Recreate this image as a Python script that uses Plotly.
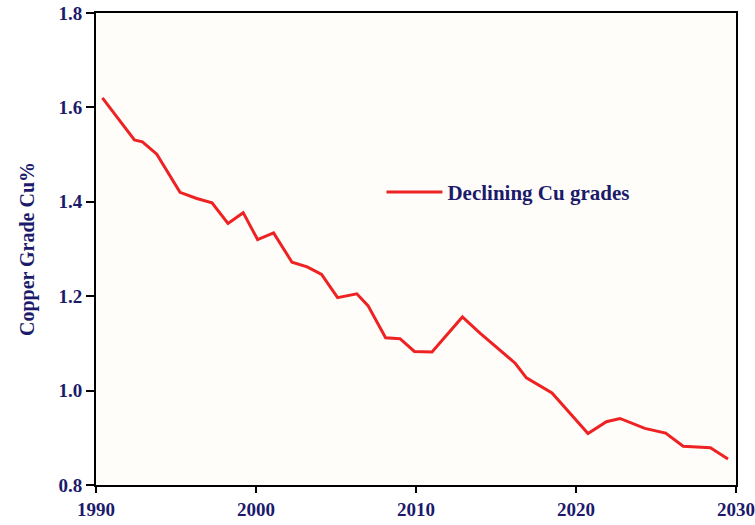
import plotly.graph_objects as go

years = [1990.4, 1992.4, 1992.9, 1993.8, 1995.25, 1996.3, 1997.25, 1998.25, 1999.2, 2000.1,
         2001.1, 2002.25, 2003.2, 2004.1, 2005.1, 2006.3, 2007.0, 2008.1, 2009.0, 2009.9,
         2011.0, 2012.9, 2014.0, 2015.1, 2016.2, 2016.9, 2018.5, 2020.75, 2021.9, 2022.75,
         2024.3, 2025.6, 2026.7, 2028.4, 2029.5]
grade = [1.620, 1.531, 1.527, 1.501, 1.420, 1.407, 1.398, 1.354, 1.377, 1.320,
         1.334, 1.272, 1.262, 1.246, 1.197, 1.205, 1.180, 1.112, 1.110, 1.083,
         1.082, 1.156, 1.122, 1.090, 1.058, 1.027, 0.995, 0.909, 0.934, 0.941,
         0.920, 0.910, 0.882, 0.879, 0.855]
x_ticks = [1990, 2000, 2010, 2020, 2030]
y_ticks = [0.8, 1.0, 1.2, 1.4, 1.6, 1.8]

navy = "#1b1a6b"
font_family = "Liberation Serif"

fig = go.Figure()
fig.add_trace(go.Scatter(
    x=years, y=grade, mode="lines", name="<b>Declining Cu grades</b>",
    line=dict(color="#ee2222", width=3),
))

axis_common = dict(
    showline=True, linecolor="black", linewidth=2, mirror=True,
    showgrid=False, zeroline=False, ticks="outside", tickcolor="black",
    tickwidth=1.5, automargin=False,
    tickfont=dict(family=font_family, size=19, color=navy),
)
fig.update_xaxes(range=[1990, 2030], tickvals=x_ticks,
                 ticktext=[f"<b>{v}</b>" for v in x_ticks], ticklen=6, **axis_common)
fig.update_yaxes(range=[0.8, 1.8], tickvals=y_ticks,
                 ticktext=[f"<b>{v:.1f}</b>" for v in y_ticks], ticklen=8,
                 title=dict(text="<b>Copper Grade Cu%</b>",
                            font=dict(family=font_family, size=20, color=navy),
                            standoff=18),
                 **axis_common)

fig.update_layout(
    width=755, height=525,
    margin=dict(l=96, r=19, t=13, b=40),
    paper_bgcolor="white", plot_bgcolor="#fffdfa",
    showlegend=True,
    legend=dict(x=0.446, y=0.62, xanchor="left", yanchor="middle",
                bgcolor="rgba(0,0,0,0)", itemwidth=56,
                font=dict(family=font_family, size=21, color=navy)),
)
fig.write_html("out.html", config={"displayModeBar": False},
               post_script="document.body.style.margin='0';document.body.style.overflow='hidden';")
